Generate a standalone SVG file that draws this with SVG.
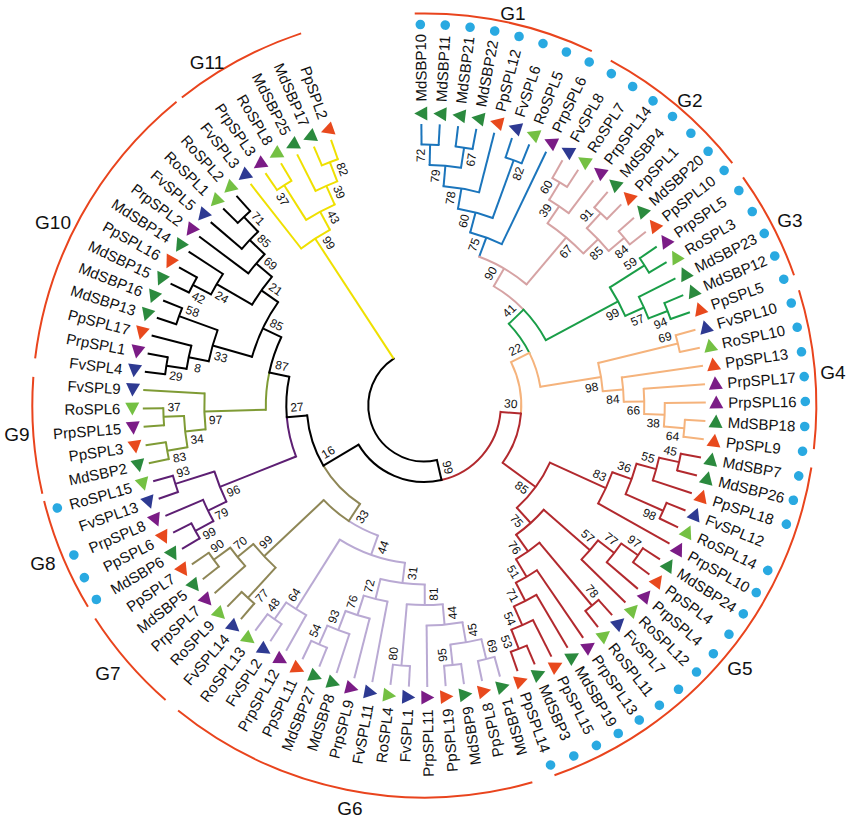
<svg xmlns="http://www.w3.org/2000/svg" width="850" height="822" viewBox="0 0 850 822">
<defs>
<style>
.cn path,.cn circle{fill:none;stroke-width:2}
.cn circle{stroke-linecap:square}
.cb{stroke:#1b75bc}.cp{stroke:#d6a3a4}.cg{stroke:#1a9e48}.co{stroke:#f5b37c}.cr{stroke:#b2292e}
.cv{stroke:#b9a9d3}.ck{stroke:#8e8656}.cu{stroke:#5d1f73}.cw{stroke:#7f9b35}.cn0{stroke:#000}.cy{stroke:#efe000}
.md{fill:#2b8a3e}.pp{fill:#e8491d}.fv{fill:#2e3a92}.ro{fill:#74c043}.prp{fill:#7b1c86}
.dot{fill:#29a9e1}
.lf text{font-family:"Liberation Sans",Arial,sans-serif;font-size:15px;dominant-baseline:central;fill:#111}
.lf .L text{text-anchor:end}
.bs text{font-family:"Liberation Sans",Arial,sans-serif;font-size:12px;dominant-baseline:central;text-anchor:middle;fill:#111}
.grp circle{fill:none;stroke:#e9441d;stroke-width:2}
.gl text{font-family:"Liberation Sans",Arial,sans-serif;font-size:19px;dominant-baseline:central;text-anchor:middle;fill:#111}
</style>
<path id="t" d="M-7 0L6-7V7Z"/>
</defs>
<rect width="850" height="822" fill="#fff"/>
<g transform="translate(424.3 405.5) rotate(-0.6)">
<g id="connectors" class="cn">
<g class="cb">
<circle r="261" pathLength="360" stroke-dasharray="3.75 400" transform="rotate(-90)"/>
<circle r="261" pathLength="360" stroke-dasharray="3.75 400" transform="rotate(-82.5)"/>
<circle r="240.5" pathLength="360" stroke-dasharray="7.5 400" transform="rotate(-88.125)"/>
<circle r="220" pathLength="360" stroke-dasharray="9.375 400" transform="rotate(-84.375)"/>
<circle r="261" pathLength="360" stroke-dasharray="3.75 400" transform="rotate(-71.25)"/>
<circle r="199.5" pathLength="360" stroke-dasharray="10.3125 400" transform="rotate(-79.6875)"/>
<circle r="179" pathLength="360" stroke-dasharray="10.78 400" transform="rotate(-74.531)"/>
<path d="M0-240.5V-261" transform="rotate(1.875)"/>
<path d="M0-240.5V-261" transform="rotate(9.375)"/>
<path d="M0-220V-240.5" transform="rotate(5.625)"/>
<path d="M0-199.5V-220" transform="rotate(10.3125)"/>
<path d="M0-199.5V-261" transform="rotate(20.625)"/>
<path d="M0-179V-199.5" transform="rotate(15.469)"/>
<path d="M0-158.5V-179" transform="rotate(20.859)"/>
<path d="M0-261V-281.5" transform="rotate(0)"/>
<path d="M0-261V-281.5" transform="rotate(3.75)"/>
<path d="M0-261V-281.5" transform="rotate(7.5)"/>
<path d="M0-261V-281.5" transform="rotate(11.25)"/>
<path d="M0-220V-281.5" transform="rotate(15)"/>
<path d="M0-261V-281.5" transform="rotate(18.75)"/>
<path d="M0-261V-281.5" transform="rotate(22.5)"/>
<path d="M0-179V-281.5" transform="rotate(26.25)"/>
</g>
<g class="cp">
<circle r="261" pathLength="360" stroke-dasharray="3.75 400" transform="rotate(-60)"/>
<circle r="240.5" pathLength="360" stroke-dasharray="5.625 400" transform="rotate(-58.125)"/>
<circle r="261" pathLength="360" stroke-dasharray="3.75 400" transform="rotate(-48.75)"/>
<circle r="261" pathLength="360" stroke-dasharray="3.75 400" transform="rotate(-41.25)"/>
<circle r="240.5" pathLength="360" stroke-dasharray="7.5 400" transform="rotate(-46.875)"/>
<circle r="220" pathLength="360" stroke-dasharray="12.1875 400" transform="rotate(-55.3125)"/>
<circle r="158.5" pathLength="360" stroke-dasharray="19.92 400" transform="rotate(-69.14)"/>
<circle r="138" pathLength="360" stroke-dasharray="15.76 400" transform="rotate(-59.18)"/>
<path d="M0-240.5V-261" transform="rotate(31.875)"/>
<path d="M0-220V-240.5" transform="rotate(34.6875)"/>
<path d="M0-240.5V-261" transform="rotate(43.125)"/>
<path d="M0-240.5V-261" transform="rotate(50.625)"/>
<path d="M0-220V-240.5" transform="rotate(46.875)"/>
<path d="M0-158.5V-220" transform="rotate(40.781)"/>
<path d="M0-138V-158.5" transform="rotate(30.82)"/>
<path d="M0-261V-281.5" transform="rotate(30)"/>
<path d="M0-261V-281.5" transform="rotate(33.75)"/>
<path d="M0-240.5V-281.5" transform="rotate(37.5)"/>
<path d="M0-261V-281.5" transform="rotate(41.25)"/>
<path d="M0-261V-281.5" transform="rotate(45)"/>
<path d="M0-261V-281.5" transform="rotate(48.75)"/>
<path d="M0-261V-281.5" transform="rotate(52.5)"/>
</g>
<g class="cg">
<circle r="261" pathLength="360" stroke-dasharray="3.75 400" transform="rotate(-33.75)"/>
<circle r="261" pathLength="360" stroke-dasharray="3.75 400" transform="rotate(-22.5)"/>
<circle r="240.5" pathLength="360" stroke-dasharray="5.625 400" transform="rotate(-26.25)"/>
<circle r="220" pathLength="360" stroke-dasharray="8.4375 400" transform="rotate(-31.875)"/>
<circle r="138" pathLength="360" stroke-dasharray="15.76 400" transform="rotate(-43.418)"/>
<circle r="117.5" pathLength="360" stroke-dasharray="17.43 400" transform="rotate(-43.418)"/>
<path d="M0-220V-261" transform="rotate(58.125)"/>
<path d="M0-240.5V-261" transform="rotate(69.375)"/>
<path d="M0-220V-240.5" transform="rotate(66.5625)"/>
<path d="M0-138V-220" transform="rotate(62.344)"/>
<path d="M0-117.5V-138" transform="rotate(46.582)"/>
<path d="M0-261V-281.5" transform="rotate(56.25)"/>
<path d="M0-261V-281.5" transform="rotate(60)"/>
<path d="M0-240.5V-281.5" transform="rotate(63.75)"/>
<path d="M0-261V-281.5" transform="rotate(67.5)"/>
<path d="M0-261V-281.5" transform="rotate(71.25)"/>
</g>
<g class="co">
<circle r="261" pathLength="360" stroke-dasharray="3.75 400" transform="rotate(-15)"/>
<circle r="261" pathLength="360" stroke-dasharray="3.75 400" transform="rotate(3.75)"/>
<circle r="240.5" pathLength="360" stroke-dasharray="5.625 400" transform="rotate(0)"/>
<circle r="220" pathLength="360" stroke-dasharray="6.5625 400" transform="rotate(-3.75)"/>
<circle r="199.5" pathLength="360" stroke-dasharray="7.031 400" transform="rotate(-7.5)"/>
<circle r="179" pathLength="360" stroke-dasharray="9.14 400" transform="rotate(-13.125)"/>
<circle r="117.5" pathLength="360" stroke-dasharray="17.43 400" transform="rotate(-25.986)"/>
<circle r="97" pathLength="360" stroke-dasharray="31.38 400" transform="rotate(-25.986)"/>
<path d="M0-179V-261" transform="rotate(76.875)"/>
<path d="M0-240.5V-261" transform="rotate(95.625)"/>
<path d="M0-220V-240.5" transform="rotate(92.8125)"/>
<path d="M0-199.5V-220" transform="rotate(89.531)"/>
<path d="M0-179V-199.5" transform="rotate(86.016)"/>
<path d="M0-117.5V-179" transform="rotate(81.445)"/>
<path d="M0-97V-117.5" transform="rotate(64.014)"/>
<path d="M0-261V-281.5" transform="rotate(75)"/>
<path d="M0-261V-281.5" transform="rotate(78.75)"/>
<path d="M0-199.5V-281.5" transform="rotate(82.5)"/>
<path d="M0-220V-281.5" transform="rotate(86.25)"/>
<path d="M0-240.5V-281.5" transform="rotate(90)"/>
<path d="M0-261V-281.5" transform="rotate(93.75)"/>
<path d="M0-261V-281.5" transform="rotate(97.5)"/>
</g>
<g class="cr">
<circle r="261" pathLength="360" stroke-dasharray="3.75 400" transform="rotate(11.25)"/>
<circle r="240.5" pathLength="360" stroke-dasharray="5.625 400" transform="rotate(13.125)"/>
<circle r="261" pathLength="360" stroke-dasharray="3.75 400" transform="rotate(22.5)"/>
<circle r="220" pathLength="360" stroke-dasharray="8.4375 400" transform="rotate(15.9375)"/>
<circle r="199.5" pathLength="360" stroke-dasharray="9.844 400" transform="rotate(20.156)"/>
<circle r="261" pathLength="360" stroke-dasharray="3.75 400" transform="rotate(33.75)"/>
<circle r="240.5" pathLength="360" stroke-dasharray="5.625 400" transform="rotate(35.625)"/>
<circle r="220" pathLength="360" stroke-dasharray="6.5625 400" transform="rotate(38.4375)"/>
<circle r="261" pathLength="360" stroke-dasharray="3.75 400" transform="rotate(48.75)"/>
<circle r="261" pathLength="360" stroke-dasharray="3.75 400" transform="rotate(67.5)"/>
<circle r="240.5" pathLength="360" stroke-dasharray="5.625 400" transform="rotate(63.75)"/>
<circle r="220" pathLength="360" stroke-dasharray="6.5625 400" transform="rotate(60)"/>
<circle r="199.5" pathLength="360" stroke-dasharray="7.031 400" transform="rotate(56.25)"/>
<circle r="179" pathLength="360" stroke-dasharray="9.14 400" transform="rotate(50.625)"/>
<circle r="158.5" pathLength="360" stroke-dasharray="13.48 400" transform="rotate(41.719)"/>
<circle r="138" pathLength="360" stroke-dasharray="23.38 400" transform="rotate(25.078)"/>
<circle r="97" pathLength="360" stroke-dasharray="31.38 400" transform="rotate(5.391)"/>
<circle r="76.5" pathLength="360" stroke-dasharray="72.19 400" transform="rotate(5.391)"/>
<path d="M0-240.5V-261" transform="rotate(103.125)"/>
<path d="M0-220V-240.5" transform="rotate(105.9375)"/>
<path d="M0-220V-261" transform="rotate(114.375)"/>
<path d="M0-199.5V-220" transform="rotate(110.156)"/>
<path d="M0-138V-199.5" transform="rotate(115.078)"/>
<path d="M0-240.5V-261" transform="rotate(125.625)"/>
<path d="M0-220V-240.5" transform="rotate(128.4375)"/>
<path d="M0-158.5V-220" transform="rotate(131.719)"/>
<path d="M0-179V-261" transform="rotate(140.625)"/>
<path d="M0-240.5V-261" transform="rotate(159.375)"/>
<path d="M0-220V-240.5" transform="rotate(156.5625)"/>
<path d="M0-199.5V-220" transform="rotate(153.281)"/>
<path d="M0-179V-199.5" transform="rotate(149.766)"/>
<path d="M0-158.5V-179" transform="rotate(145.195)"/>
<path d="M0-138V-158.5" transform="rotate(138.457)"/>
<path d="M0-97V-138" transform="rotate(126.768)"/>
<path d="M0-76.5V-97" transform="rotate(95.391)"/>
<path d="M0-261V-281.5" transform="rotate(101.25)"/>
<path d="M0-261V-281.5" transform="rotate(105)"/>
<path d="M0-240.5V-281.5" transform="rotate(108.75)"/>
<path d="M0-261V-281.5" transform="rotate(112.5)"/>
<path d="M0-261V-281.5" transform="rotate(116.25)"/>
<path d="M0-199.5V-281.5" transform="rotate(120)"/>
<path d="M0-261V-281.5" transform="rotate(123.75)"/>
<path d="M0-261V-281.5" transform="rotate(127.5)"/>
<path d="M0-240.5V-281.5" transform="rotate(131.25)"/>
<path d="M0-220V-281.5" transform="rotate(135)"/>
<path d="M0-261V-281.5" transform="rotate(138.75)"/>
<path d="M0-261V-281.5" transform="rotate(142.5)"/>
<path d="M0-199.5V-281.5" transform="rotate(146.25)"/>
<path d="M0-220V-281.5" transform="rotate(150)"/>
<path d="M0-240.5V-281.5" transform="rotate(153.75)"/>
<path d="M0-261V-281.5" transform="rotate(157.5)"/>
<path d="M0-261V-281.5" transform="rotate(161.25)"/>
</g>
<g class="cv">
<circle r="261" pathLength="360" stroke-dasharray="3.75 400" transform="rotate(75)"/>
<circle r="261" pathLength="360" stroke-dasharray="3.75 400" transform="rotate(82.5)"/>
<circle r="240.5" pathLength="360" stroke-dasharray="7.5 400" transform="rotate(76.875)"/>
<circle r="220" pathLength="360" stroke-dasharray="9.375 400" transform="rotate(80.625)"/>
<circle r="261" pathLength="360" stroke-dasharray="3.75 400" transform="rotate(93.75)"/>
<circle r="199.5" pathLength="360" stroke-dasharray="10.3125 400" transform="rotate(85.3125)"/>
<circle r="261" pathLength="360" stroke-dasharray="3.75 400" transform="rotate(112.5)"/>
<circle r="240.5" pathLength="360" stroke-dasharray="5.625 400" transform="rotate(108.75)"/>
<circle r="220" pathLength="360" stroke-dasharray="6.5625 400" transform="rotate(105)"/>
<circle r="199.5" pathLength="360" stroke-dasharray="7.031 400" transform="rotate(101.25)"/>
<circle r="179" pathLength="360" stroke-dasharray="14.297 400" transform="rotate(90.469)"/>
<circle r="261" pathLength="360" stroke-dasharray="3.75 400" transform="rotate(123.75)"/>
<circle r="240.5" pathLength="360" stroke-dasharray="5.625 400" transform="rotate(120)"/>
<circle r="158.5" pathLength="360" stroke-dasharray="25.195 400" transform="rotate(97.617)"/>
<circle r="138" pathLength="360" stroke-dasharray="13.56 400" transform="rotate(110.215)"/>
<path d="M0-240.5V-261" transform="rotate(166.875)"/>
<path d="M0-240.5V-261" transform="rotate(174.375)"/>
<path d="M0-220V-240.5" transform="rotate(170.625)"/>
<path d="M0-199.5V-220" transform="rotate(175.3125)"/>
<path d="M0-199.5V-261" transform="rotate(185.625)"/>
<path d="M0-179V-199.5" transform="rotate(180.469)"/>
<path d="M0-240.5V-261" transform="rotate(204.375)"/>
<path d="M0-220V-240.5" transform="rotate(201.5625)"/>
<path d="M0-199.5V-220" transform="rotate(198.281)"/>
<path d="M0-179V-199.5" transform="rotate(194.766)"/>
<path d="M0-158.5V-179" transform="rotate(187.617)"/>
<path d="M0-240.5V-261" transform="rotate(215.625)"/>
<path d="M0-158.5V-240.5" transform="rotate(212.8125)"/>
<path d="M0-138V-158.5" transform="rotate(200.215)"/>
<path d="M0-261V-281.5" transform="rotate(165)"/>
<path d="M0-261V-281.5" transform="rotate(168.75)"/>
<path d="M0-261V-281.5" transform="rotate(172.5)"/>
<path d="M0-261V-281.5" transform="rotate(176.25)"/>
<path d="M0-220V-281.5" transform="rotate(180)"/>
<path d="M0-261V-281.5" transform="rotate(183.75)"/>
<path d="M0-261V-281.5" transform="rotate(187.5)"/>
<path d="M0-199.5V-281.5" transform="rotate(191.25)"/>
<path d="M0-220V-281.5" transform="rotate(195)"/>
<path d="M0-240.5V-281.5" transform="rotate(198.75)"/>
<path d="M0-261V-281.5" transform="rotate(202.5)"/>
<path d="M0-261V-281.5" transform="rotate(206.25)"/>
<path d="M0-240.5V-281.5" transform="rotate(210)"/>
<path d="M0-261V-281.5" transform="rotate(213.75)"/>
<path d="M0-261V-281.5" transform="rotate(217.5)"/>
</g>
<g class="ck">
<circle r="261" pathLength="360" stroke-dasharray="3.75 400" transform="rotate(131.25)"/>
<circle r="261" pathLength="360" stroke-dasharray="3.75 400" transform="rotate(142.5)"/>
<circle r="240.5" pathLength="360" stroke-dasharray="5.625 400" transform="rotate(138.75)"/>
<circle r="220" pathLength="360" stroke-dasharray="8.4375 400" transform="rotate(133.125)"/>
<circle r="138" pathLength="360" stroke-dasharray="13.56 400" transform="rotate(123.779)"/>
<circle r="117.5" pathLength="360" stroke-dasharray="25.99 400" transform="rotate(123.779)"/>
<path d="M0-220V-261" transform="rotate(223.125)"/>
<path d="M0-240.5V-261" transform="rotate(234.375)"/>
<path d="M0-220V-240.5" transform="rotate(231.5625)"/>
<path d="M0-138V-220" transform="rotate(227.344)"/>
<path d="M0-117.5V-138" transform="rotate(213.779)"/>
<path d="M0-261V-281.5" transform="rotate(221.25)"/>
<path d="M0-261V-281.5" transform="rotate(225)"/>
<path d="M0-240.5V-281.5" transform="rotate(228.75)"/>
<path d="M0-261V-281.5" transform="rotate(232.5)"/>
<path d="M0-261V-281.5" transform="rotate(236.25)"/>
</g>
<g class="cu">
<circle r="261" pathLength="360" stroke-dasharray="3.75 400" transform="rotate(150)"/>
<circle r="240.5" pathLength="360" stroke-dasharray="5.625 400" transform="rotate(151.875)"/>
<circle r="261" pathLength="360" stroke-dasharray="3.75 400" transform="rotate(161.25)"/>
<circle r="220" pathLength="360" stroke-dasharray="8.4375 400" transform="rotate(154.6875)"/>
<circle r="138" pathLength="360" stroke-dasharray="16.85 400" transform="rotate(158.906)"/>
<path d="M0-240.5V-261" transform="rotate(241.875)"/>
<path d="M0-220V-240.5" transform="rotate(244.6875)"/>
<path d="M0-220V-261" transform="rotate(253.125)"/>
<path d="M0-138V-220" transform="rotate(248.906)"/>
<path d="M0-261V-281.5" transform="rotate(240)"/>
<path d="M0-261V-281.5" transform="rotate(243.75)"/>
<path d="M0-240.5V-281.5" transform="rotate(247.5)"/>
<path d="M0-261V-281.5" transform="rotate(251.25)"/>
<path d="M0-261V-281.5" transform="rotate(255)"/>
</g>
<g class="cw">
<circle r="261" pathLength="360" stroke-dasharray="3.75 400" transform="rotate(168.75)"/>
<circle r="261" pathLength="360" stroke-dasharray="3.75 400" transform="rotate(176.25)"/>
<circle r="240.5" pathLength="360" stroke-dasharray="7.5 400" transform="rotate(170.625)"/>
<circle r="220" pathLength="360" stroke-dasharray="9.375 400" transform="rotate(174.375)"/>
<circle r="158.5" pathLength="360" stroke-dasharray="13.54 400" transform="rotate(179.0625)"/>
<path d="M0-240.5V-261" transform="rotate(260.625)"/>
<path d="M0-240.5V-261" transform="rotate(268.125)"/>
<path d="M0-220V-240.5" transform="rotate(264.375)"/>
<path d="M0-158.5V-220" transform="rotate(269.0625)"/>
<path d="M0-261V-281.5" transform="rotate(258.75)"/>
<path d="M0-261V-281.5" transform="rotate(262.5)"/>
<path d="M0-261V-281.5" transform="rotate(266.25)"/>
<path d="M0-261V-281.5" transform="rotate(270)"/>
<path d="M0-220V-281.5" transform="rotate(273.75)"/>
</g>
<g class="cn0">
<circle r="261" pathLength="360" stroke-dasharray="3.75 400" transform="rotate(187.5)"/>
<circle r="240.5" pathLength="360" stroke-dasharray="5.625 400" transform="rotate(189.375)"/>
<circle r="261" pathLength="360" stroke-dasharray="3.75 400" transform="rotate(198.75)"/>
<circle r="220" pathLength="360" stroke-dasharray="8.4375 400" transform="rotate(192.1875)"/>
<circle r="261" pathLength="360" stroke-dasharray="3.75 400" transform="rotate(206.25)"/>
<circle r="240.5" pathLength="360" stroke-dasharray="5.625 400" transform="rotate(208.125)"/>
<circle r="261" pathLength="360" stroke-dasharray="3.75 400" transform="rotate(225)"/>
<circle r="240.5" pathLength="360" stroke-dasharray="5.625 400" transform="rotate(221.25)"/>
<circle r="220" pathLength="360" stroke-dasharray="6.5625 400" transform="rotate(217.5)"/>
<circle r="199.5" pathLength="360" stroke-dasharray="9.844 400" transform="rotate(210.9375)"/>
<circle r="179" pathLength="360" stroke-dasharray="19.45 400" transform="rotate(196.406)"/>
<circle r="158.5" pathLength="360" stroke-dasharray="13.54 400" transform="rotate(192.598)"/>
<circle r="138" pathLength="360" stroke-dasharray="16.85 400" transform="rotate(175.752)"/>
<circle r="117.5" pathLength="360" stroke-dasharray="25.99 400" transform="rotate(149.766)"/>
<circle r="76.5" pathLength="360" stroke-dasharray="72.19 400" transform="rotate(77.578)"/>
<circle r="56" pathLength="360" stroke-dasharray="159.84 400" transform="rotate(77.578)"/>
<path d="M0-240.5V-261" transform="rotate(279.375)"/>
<path d="M0-220V-240.5" transform="rotate(282.1875)"/>
<path d="M0-220V-261" transform="rotate(290.625)"/>
<path d="M0-179V-220" transform="rotate(286.406)"/>
<path d="M0-240.5V-261" transform="rotate(298.125)"/>
<path d="M0-199.5V-240.5" transform="rotate(300.9375)"/>
<path d="M0-240.5V-261" transform="rotate(316.875)"/>
<path d="M0-220V-240.5" transform="rotate(314.0625)"/>
<path d="M0-199.5V-220" transform="rotate(310.781)"/>
<path d="M0-179V-199.5" transform="rotate(305.859)"/>
<path d="M0-158.5V-179" transform="rotate(296.133)"/>
<path d="M0-138V-158.5" transform="rotate(282.598)"/>
<path d="M0-117.5V-138" transform="rotate(265.752)"/>
<path d="M0-76.5V-117.5" transform="rotate(239.766)"/>
<path d="M0-56V-76.5" transform="rotate(167.578)"/>
<path d="M0-261V-281.5" transform="rotate(277.5)"/>
<path d="M0-261V-281.5" transform="rotate(281.25)"/>
<path d="M0-240.5V-281.5" transform="rotate(285)"/>
<path d="M0-261V-281.5" transform="rotate(288.75)"/>
<path d="M0-261V-281.5" transform="rotate(292.5)"/>
<path d="M0-261V-281.5" transform="rotate(296.25)"/>
<path d="M0-261V-281.5" transform="rotate(300)"/>
<path d="M0-240.5V-281.5" transform="rotate(303.75)"/>
<path d="M0-220V-281.5" transform="rotate(307.5)"/>
<path d="M0-240.5V-281.5" transform="rotate(311.25)"/>
<path d="M0-261V-281.5" transform="rotate(315)"/>
<path d="M0-261V-281.5" transform="rotate(318.75)"/>
</g>
<g class="cy">
<circle r="261" pathLength="360" stroke-dasharray="3.75 400" transform="rotate(236.25)"/>
<circle r="261" pathLength="360" stroke-dasharray="3.75 400" transform="rotate(247.5)"/>
<circle r="240.5" pathLength="360" stroke-dasharray="5.625 400" transform="rotate(243.75)"/>
<circle r="220" pathLength="360" stroke-dasharray="8.4375 400" transform="rotate(238.125)"/>
<circle r="199.5" pathLength="360" stroke-dasharray="9.844 400" transform="rotate(232.5)"/>
<path d="M0-220V-261" transform="rotate(328.125)"/>
<path d="M0-240.5V-261" transform="rotate(339.375)"/>
<path d="M0-220V-240.5" transform="rotate(336.5625)"/>
<path d="M0-199.5V-220" transform="rotate(332.344)"/>
<path d="M0-56V-199.5" transform="rotate(327.422)"/>
<path d="M0-199.5V-281.5" transform="rotate(322.5)"/>
<path d="M0-261V-281.5" transform="rotate(326.25)"/>
<path d="M0-261V-281.5" transform="rotate(330)"/>
<path d="M0-240.5V-281.5" transform="rotate(333.75)"/>
<path d="M0-261V-281.5" transform="rotate(337.5)"/>
<path d="M0-261V-281.5" transform="rotate(341.25)"/>
</g>
</g>
<g id="groups" class="grp">
<circle r="392" pathLength="360" stroke-dasharray="26.7 400" transform="rotate(-90.8)"/>
<circle r="392" pathLength="360" stroke-dasharray="23.4 400" transform="rotate(-61)"/>
<circle r="392" pathLength="360" stroke-dasharray="16.2 400" transform="rotate(-35)"/>
<circle r="392" pathLength="360" stroke-dasharray="23.5 400" transform="rotate(-16.5)"/>
<circle r="392" pathLength="360" stroke-dasharray="61.5 400" transform="rotate(9.7)"/>
<circle r="392" pathLength="360" stroke-dasharray="54.9 400" transform="rotate(74.6)"/>
<circle r="392" pathLength="360" stroke-dasharray="15.8 400" transform="rotate(131.9)"/>
<circle r="392" pathLength="360" stroke-dasharray="16.8 400" transform="rotate(149.7)"/>
<circle r="392" pathLength="360" stroke-dasharray="17.2 400" transform="rotate(167.6)"/>
<circle r="392" pathLength="360" stroke-dasharray="43.9 400" transform="rotate(187.5)"/>
<circle r="392" pathLength="360" stroke-dasharray="19.9 400" transform="rotate(232.4)"/>
</g>
<g id="leaves" class="lf">
<g id="MdSBP10" transform="rotate(0)"><use href="#t" y="-292" class="md"/><text x="304" transform="rotate(-90)">MdSBP10</text><circle class="dot" cy="-381" r="4.8"/></g>
<g id="MdSBP11" transform="rotate(3.75)"><use href="#t" y="-292" class="md"/><text x="304" transform="rotate(-90)">MdSBP11</text><circle class="dot" cy="-381" r="4.8"/></g>
<g id="MdSBP21" transform="rotate(7.5)"><use href="#t" y="-292" class="md"/><text x="304" transform="rotate(-90)">MdSBP21</text><circle class="dot" cy="-381" r="4.8"/></g>
<g id="MdSBP22" transform="rotate(11.25)"><use href="#t" y="-292" class="md"/><text x="304" transform="rotate(-90)">MdSBP22</text><circle class="dot" cy="-381" r="4.8"/></g>
<g id="PpSPL12" transform="rotate(15)"><use href="#t" y="-292" class="pp"/><text x="304" transform="rotate(-90)">PpSPL12</text><circle class="dot" cy="-381" r="4.8"/></g>
<g id="FvSPL6" transform="rotate(18.75)"><use href="#t" y="-292" class="fv"/><text x="304" transform="rotate(-90)">FvSPL6</text><circle class="dot" cy="-381" r="4.8"/></g>
<g id="RoSPL5" transform="rotate(22.5)"><use href="#t" y="-292" class="ro"/><text x="304" transform="rotate(-90)">RoSPL5</text><circle class="dot" cy="-381" r="4.8"/></g>
<g id="PrpSPL6" transform="rotate(26.25)"><use href="#t" y="-292" class="prp"/><text x="304" transform="rotate(-90)">PrpSPL6</text><circle class="dot" cy="-381" r="4.8"/></g>
<g id="FvSPL8" transform="rotate(30)"><use href="#t" y="-292" class="fv"/><text x="304" transform="rotate(-90)">FvSPL8</text><circle class="dot" cy="-381" r="4.8"/></g>
<g id="RoSPL7" transform="rotate(33.75)"><use href="#t" y="-292" class="ro"/><text x="304" transform="rotate(-90)">RoSPL7</text><circle class="dot" cy="-381" r="4.8"/></g>
<g id="PrpSPL14" transform="rotate(37.5)"><use href="#t" y="-292" class="prp"/><text x="304" transform="rotate(-90)">PrpSPL14</text><circle class="dot" cy="-381" r="4.8"/></g>
<g id="MdSBP4" transform="rotate(41.25)"><use href="#t" y="-292" class="md"/><text x="304" transform="rotate(-90)">MdSBP4</text><circle class="dot" cy="-381" r="4.8"/></g>
<g id="PpSPL1" transform="rotate(45)"><use href="#t" y="-292" class="pp"/><text x="304" transform="rotate(-90)">PpSPL1</text><circle class="dot" cy="-381" r="4.8"/></g>
<g id="MdSBP20" transform="rotate(48.75)"><use href="#t" y="-292" class="md"/><text x="304" transform="rotate(-90)">MdSBP20</text><circle class="dot" cy="-381" r="4.8"/></g>
<g id="PpSPL10" transform="rotate(52.5)"><use href="#t" y="-292" class="pp"/><text x="304" transform="rotate(-90)">PpSPL10</text><circle class="dot" cy="-381" r="4.8"/></g>
<g id="PrpSPL5" transform="rotate(56.25)"><use href="#t" y="-292" class="prp"/><text x="304" transform="rotate(-90)">PrpSPL5</text><circle class="dot" cy="-381" r="4.8"/></g>
<g id="RoSPL3" transform="rotate(60)"><use href="#t" y="-292" class="ro"/><text x="304" transform="rotate(-90)">RoSPL3</text><circle class="dot" cy="-381" r="4.8"/></g>
<g id="MdSBP23" transform="rotate(63.75)"><use href="#t" y="-292" class="md"/><text x="304" transform="rotate(-90)">MdSBP23</text><circle class="dot" cy="-381" r="4.8"/></g>
<g id="MdSBP12" transform="rotate(67.5)"><use href="#t" y="-292" class="md"/><text x="304" transform="rotate(-90)">MdSBP12</text><circle class="dot" cy="-381" r="4.8"/></g>
<g id="PpSPL5" transform="rotate(71.25)"><use href="#t" y="-292" class="pp"/><text x="304" transform="rotate(-90)">PpSPL5</text><circle class="dot" cy="-381" r="4.8"/></g>
<g id="FvSPL10" transform="rotate(75)"><use href="#t" y="-292" class="fv"/><text x="304" transform="rotate(-90)">FvSPL10</text><circle class="dot" cy="-381" r="4.8"/></g>
<g id="RoSPL10" transform="rotate(78.75)"><use href="#t" y="-292" class="ro"/><text x="304" transform="rotate(-90)">RoSPL10</text><circle class="dot" cy="-381" r="4.8"/></g>
<g id="PpSPL13" transform="rotate(82.5)"><use href="#t" y="-292" class="pp"/><text x="304" transform="rotate(-90)">PpSPL13</text><circle class="dot" cy="-381" r="4.8"/></g>
<g id="PrpSPL17" transform="rotate(86.25)"><use href="#t" y="-292" class="prp"/><text x="304" transform="rotate(-90)">PrpSPL17</text><circle class="dot" cy="-381" r="4.8"/></g>
<g id="PrpSPL16" transform="rotate(90)"><use href="#t" y="-292" class="prp"/><text x="304" transform="rotate(-90)">PrpSPL16</text><circle class="dot" cy="-381" r="4.8"/></g>
<g id="MdSBP18" transform="rotate(93.75)"><use href="#t" y="-292" class="md"/><text x="304" transform="rotate(-90)">MdSBP18</text><circle class="dot" cy="-381" r="4.8"/></g>
<g id="PpSPL9" transform="rotate(97.5)"><use href="#t" y="-292" class="pp"/><text x="304" transform="rotate(-90)">PpSPL9</text><circle class="dot" cy="-381" r="4.8"/></g>
<g id="MdSBP7" transform="rotate(101.25)"><use href="#t" y="-292" class="md"/><text x="304" transform="rotate(-90)">MdSBP7</text><circle class="dot" cy="-381" r="4.8"/></g>
<g id="MdSBP26" transform="rotate(105)"><use href="#t" y="-292" class="md"/><text x="304" transform="rotate(-90)">MdSBP26</text><circle class="dot" cy="-381" r="4.8"/></g>
<g id="PpSPL18" transform="rotate(108.75)"><use href="#t" y="-292" class="pp"/><text x="304" transform="rotate(-90)">PpSPL18</text><circle class="dot" cy="-381" r="4.8"/></g>
<g id="FvSPL12" transform="rotate(112.5)"><use href="#t" y="-292" class="fv"/><text x="304" transform="rotate(-90)">FvSPL12</text></g>
<g id="RoSPL14" transform="rotate(116.25)"><use href="#t" y="-292" class="ro"/><text x="304" transform="rotate(-90)">RoSPL14</text><circle class="dot" cy="-381" r="4.8"/></g>
<g id="PrpSPL10" transform="rotate(120)"><use href="#t" y="-292" class="prp"/><text x="304" transform="rotate(-90)">PrpSPL10</text><circle class="dot" cy="-381" r="4.8"/></g>
<g id="MdSBP24" transform="rotate(123.75)"><use href="#t" y="-292" class="md"/><text x="304" transform="rotate(-90)">MdSBP24</text><circle class="dot" cy="-381" r="4.8"/></g>
<g id="PpSPL4" transform="rotate(127.5)"><use href="#t" y="-292" class="pp"/><text x="304" transform="rotate(-90)">PpSPL4</text><circle class="dot" cy="-381" r="4.8"/></g>
<g id="PrpSPL4" transform="rotate(131.25)"><use href="#t" y="-292" class="prp"/><text x="304" transform="rotate(-90)">PrpSPL4</text><circle class="dot" cy="-381" r="4.8"/></g>
<g id="RoSPL12" transform="rotate(135)"><use href="#t" y="-292" class="ro"/><text x="304" transform="rotate(-90)">RoSPL12</text><circle class="dot" cy="-381" r="4.8"/></g>
<g id="FvSPL7" transform="rotate(138.75)"><use href="#t" y="-292" class="fv"/><text x="304" transform="rotate(-90)">FvSPL7</text><circle class="dot" cy="-381" r="4.8"/></g>
<g id="RoSPL11" transform="rotate(142.5)"><use href="#t" y="-292" class="ro"/><text x="304" transform="rotate(-90)">RoSPL11</text><circle class="dot" cy="-381" r="4.8"/></g>
<g id="PrpSPL13" transform="rotate(146.25)"><use href="#t" y="-292" class="prp"/><text x="304" transform="rotate(-90)">PrpSPL13</text><circle class="dot" cy="-381" r="4.8"/></g>
<g id="MdSBP19" transform="rotate(150)"><use href="#t" y="-292" class="md"/><text x="304" transform="rotate(-90)">MdSBP19</text><circle class="dot" cy="-381" r="4.8"/></g>
<g id="PpSPL15" transform="rotate(153.75)"><use href="#t" y="-292" class="pp"/><text x="304" transform="rotate(-90)">PpSPL15</text><circle class="dot" cy="-381" r="4.8"/></g>
<g id="MdSBP3" transform="rotate(157.5)"><use href="#t" y="-292" class="md"/><text x="304" transform="rotate(-90)">MdSBP3</text><circle class="dot" cy="-381" r="4.8"/></g>
<g id="PpSPL14" transform="rotate(161.25)"><use href="#t" y="-292" class="pp"/><text x="304" transform="rotate(-90)">PpSPL14</text><circle class="dot" cy="-381" r="4.8"/></g>
<g id="MdSBP1" class="L" transform="rotate(165)"><use href="#t" y="-292" class="md"/><text x="-304" transform="rotate(90)">MdSBP1</text></g>
<g id="PpSPL8" class="L" transform="rotate(168.75)"><use href="#t" y="-292" class="pp"/><text x="-304" transform="rotate(90)">PpSPL8</text></g>
<g id="MdSBP9" class="L" transform="rotate(172.5)"><use href="#t" y="-292" class="md"/><text x="-304" transform="rotate(90)">MdSBP9</text></g>
<g id="PpSPL19" class="L" transform="rotate(176.25)"><use href="#t" y="-292" class="pp"/><text x="-304" transform="rotate(90)">PpSPL19</text></g>
<g id="PrpSPL11" class="L" transform="rotate(180)"><use href="#t" y="-292" class="prp"/><text x="-304" transform="rotate(90)">PrpSPL11</text></g>
<g id="FvSPL1" class="L" transform="rotate(183.75)"><use href="#t" y="-292" class="fv"/><text x="-304" transform="rotate(90)">FvSPL1</text></g>
<g id="RoSPL4" class="L" transform="rotate(187.5)"><use href="#t" y="-292" class="ro"/><text x="-304" transform="rotate(90)">RoSPL4</text></g>
<g id="FvSPL11" class="L" transform="rotate(191.25)"><use href="#t" y="-292" class="fv"/><text x="-304" transform="rotate(90)">FvSPL11</text></g>
<g id="PrpSPL9" class="L" transform="rotate(195)"><use href="#t" y="-292" class="prp"/><text x="-304" transform="rotate(90)">PrpSPL9</text></g>
<g id="MdSBP8" class="L" transform="rotate(198.75)"><use href="#t" y="-292" class="md"/><text x="-304" transform="rotate(90)">MdSBP8</text></g>
<g id="MdSBP27" class="L" transform="rotate(202.5)"><use href="#t" y="-292" class="md"/><text x="-304" transform="rotate(90)">MdSBP27</text></g>
<g id="PpSPL11" class="L" transform="rotate(206.25)"><use href="#t" y="-292" class="pp"/><text x="-304" transform="rotate(90)">PpSPL11</text></g>
<g id="PrpSPL12" class="L" transform="rotate(210)"><use href="#t" y="-292" class="prp"/><text x="-304" transform="rotate(90)">PrpSPL12</text></g>
<g id="FvSPL2" class="L" transform="rotate(213.75)"><use href="#t" y="-292" class="fv"/><text x="-304" transform="rotate(90)">FvSPL2</text></g>
<g id="RoSPL13" class="L" transform="rotate(217.5)"><use href="#t" y="-292" class="ro"/><text x="-304" transform="rotate(90)">RoSPL13</text></g>
<g id="FvSPL14" class="L" transform="rotate(221.25)"><use href="#t" y="-292" class="fv"/><text x="-304" transform="rotate(90)">FvSPL14</text></g>
<g id="RoSPL9" class="L" transform="rotate(225)"><use href="#t" y="-292" class="ro"/><text x="-304" transform="rotate(90)">RoSPL9</text></g>
<g id="PrpSPL7" class="L" transform="rotate(228.75)"><use href="#t" y="-292" class="prp"/><text x="-304" transform="rotate(90)">PrpSPL7</text></g>
<g id="MdSBP5" class="L" transform="rotate(232.5)"><use href="#t" y="-292" class="md"/><text x="-304" transform="rotate(90)">MdSBP5</text></g>
<g id="PpSPL7" class="L" transform="rotate(236.25)"><use href="#t" y="-292" class="pp"/><text x="-304" transform="rotate(90)">PpSPL7</text></g>
<g id="MdSBP6" class="L" transform="rotate(240)"><use href="#t" y="-292" class="md"/><text x="-304" transform="rotate(90)">MdSBP6</text><circle class="dot" cy="-381" r="4.8"/></g>
<g id="PpSPL6" class="L" transform="rotate(243.75)"><use href="#t" y="-292" class="pp"/><text x="-304" transform="rotate(90)">PpSPL6</text><circle class="dot" cy="-381" r="4.8"/></g>
<g id="PrpSPL8" class="L" transform="rotate(247.5)"><use href="#t" y="-292" class="prp"/><text x="-304" transform="rotate(90)">PrpSPL8</text><circle class="dot" cy="-381" r="4.8"/></g>
<g id="FvSPL13" class="L" transform="rotate(251.25)"><use href="#t" y="-292" class="fv"/><text x="-304" transform="rotate(90)">FvSPL13</text></g>
<g id="RoSPL15" class="L" transform="rotate(255)"><use href="#t" y="-292" class="ro"/><text x="-304" transform="rotate(90)">RoSPL15</text><circle class="dot" cy="-381" r="4.8"/></g>
<g id="MdSBP2" class="L" transform="rotate(258.75)"><use href="#t" y="-292" class="md"/><text x="-304" transform="rotate(90)">MdSBP2</text></g>
<g id="PpSPL3" class="L" transform="rotate(262.5)"><use href="#t" y="-292" class="pp"/><text x="-304" transform="rotate(90)">PpSPL3</text></g>
<g id="PrpSPL15" class="L" transform="rotate(266.25)"><use href="#t" y="-292" class="prp"/><text x="-304" transform="rotate(90)">PrpSPL15</text></g>
<g id="RoSPL6" class="L" transform="rotate(270)"><use href="#t" y="-292" class="ro"/><text x="-304" transform="rotate(90)">RoSPL6</text></g>
<g id="FvSPL9" class="L" transform="rotate(273.75)"><use href="#t" y="-292" class="fv"/><text x="-304" transform="rotate(90)">FvSPL9</text></g>
<g id="FvSPL4" class="L" transform="rotate(277.5)"><use href="#t" y="-292" class="fv"/><text x="-304" transform="rotate(90)">FvSPL4</text></g>
<g id="PrpSPL1" class="L" transform="rotate(281.25)"><use href="#t" y="-292" class="prp"/><text x="-304" transform="rotate(90)">PrpSPL1</text></g>
<g id="PpSPL17" class="L" transform="rotate(285)"><use href="#t" y="-292" class="pp"/><text x="-304" transform="rotate(90)">PpSPL17</text></g>
<g id="MdSBP13" class="L" transform="rotate(288.75)"><use href="#t" y="-292" class="md"/><text x="-304" transform="rotate(90)">MdSBP13</text></g>
<g id="MdSBP16" class="L" transform="rotate(292.5)"><use href="#t" y="-292" class="md"/><text x="-304" transform="rotate(90)">MdSBP16</text></g>
<g id="MdSBP15" class="L" transform="rotate(296.25)"><use href="#t" y="-292" class="md"/><text x="-304" transform="rotate(90)">MdSBP15</text></g>
<g id="PpSPL16" class="L" transform="rotate(300)"><use href="#t" y="-292" class="pp"/><text x="-304" transform="rotate(90)">PpSPL16</text></g>
<g id="MdSBP14" class="L" transform="rotate(303.75)"><use href="#t" y="-292" class="md"/><text x="-304" transform="rotate(90)">MdSBP14</text></g>
<g id="PrpSPL2" class="L" transform="rotate(307.5)"><use href="#t" y="-292" class="prp"/><text x="-304" transform="rotate(90)">PrpSPL2</text></g>
<g id="FvSPL5" class="L" transform="rotate(311.25)"><use href="#t" y="-292" class="fv"/><text x="-304" transform="rotate(90)">FvSPL5</text></g>
<g id="RoSPL1" class="L" transform="rotate(315)"><use href="#t" y="-292" class="ro"/><text x="-304" transform="rotate(90)">RoSPL1</text></g>
<g id="RoSPL2" class="L" transform="rotate(318.75)"><use href="#t" y="-292" class="ro"/><text x="-304" transform="rotate(90)">RoSPL2</text></g>
<g id="FvSPL3" class="L" transform="rotate(322.5)"><use href="#t" y="-292" class="fv"/><text x="-304" transform="rotate(90)">FvSPL3</text></g>
<g id="PrpSPL3" class="L" transform="rotate(326.25)"><use href="#t" y="-292" class="prp"/><text x="-304" transform="rotate(90)">PrpSPL3</text></g>
<g id="RoSPL8" class="L" transform="rotate(330)"><use href="#t" y="-292" class="ro"/><text x="-304" transform="rotate(90)">RoSPL8</text></g>
<g id="MdSBP25" class="L" transform="rotate(333.75)"><use href="#t" y="-292" class="md"/><text x="-304" transform="rotate(90)">MdSBP25</text></g>
<g id="MdSBP17" class="L" transform="rotate(337.5)"><use href="#t" y="-292" class="md"/><text x="-304" transform="rotate(90)">MdSBP17</text></g>
<g id="PpSPL2" class="L" transform="rotate(341.25)"><use href="#t" y="-292" class="pp"/><text x="-304" transform="rotate(90)">PpSPL2</text></g>
</g>
<g id="bootstrap" class="bs">
<text transform="rotate(-88.125)" x="250" y="-9">72</text>
<text transform="rotate(-80.625)" x="250" y="9">67</text>
<text transform="rotate(-84.375)" x="229.5" y="-9">79</text>
<text transform="rotate(-79.69)" x="209" y="-9">78</text>
<text transform="rotate(-69.375)" x="250" y="9">82</text>
<text transform="rotate(-74.53)" x="188.5" y="-9">60</text>
<text transform="rotate(-69.14)" x="168" y="-9">75</text>
<text transform="rotate(-58.125)" x="250" y="-9">60</text>
<text transform="rotate(-55.31)" x="229.5" y="-9">39</text>
<text transform="rotate(-46.875)" x="250" y="-9">91</text>
<text transform="rotate(-39.375)" x="250" y="9">84</text>
<text transform="rotate(-43.125)" x="229.5" y="9">85</text>
<text transform="rotate(-49.22)" x="209" y="9">67</text>
<text transform="rotate(-59.18)" x="147.5" y="-9">90</text>
<text transform="rotate(-31.875)" x="250" y="-9">59</text>
<text transform="rotate(-20.625)" x="250" y="9">94</text>
<text transform="rotate(-23.44)" x="229.5" y="9">57</text>
<text transform="rotate(-27.66)" x="209" y="9">99</text>
<text transform="rotate(-43.42)" x="127" y="-9">41</text>
<text transform="rotate(-13.125)" x="250" y="-9">69</text>
<text transform="rotate(5.625)" x="250" y="9">64</text>
<text transform="rotate(2.81)" x="229.5" y="9">38</text>
<text transform="rotate(-0.47)" x="209" y="9">66</text>
<text transform="rotate(-3.98)" x="188.5" y="9">84</text>
<text transform="rotate(-8.55)" x="168" y="9">98</text>
<text transform="rotate(-25.99)" x="106.5" y="-9">22</text>
<text transform="rotate(13.125)" x="250" y="-9">45</text>
<text transform="rotate(15.94)" x="229.5" y="-9">55</text>
<text transform="rotate(24.375)" x="250" y="9">98</text>
<text transform="rotate(20.16)" x="209" y="-9">36</text>
<text transform="rotate(25.08)" x="188.5" y="-9">83</text>
<text transform="rotate(35.625)" x="250" y="-9">97</text>
<text transform="rotate(38.44)" x="229.5" y="-9">77</text>
<text transform="rotate(41.72)" x="209" y="-9">57</text>
<text transform="rotate(50.625)" x="250" y="-9">78</text>
<text transform="rotate(69.375)" x="250" y="9">53</text>
<text transform="rotate(66.56)" x="229.5" y="9">54</text>
<text transform="rotate(63.28)" x="209" y="9">71</text>
<text transform="rotate(59.77)" x="188.5" y="9">51</text>
<text transform="rotate(55.2)" x="168" y="9">76</text>
<text transform="rotate(48.46)" x="147.5" y="9">75</text>
<text transform="rotate(36.77)" x="127" y="9">85</text>
<text transform="rotate(5.39)" x="86" y="-9">30</text>
<text transform="rotate(257.58)" x="-65.5" y="9">66</text>
<text transform="rotate(256.875)" x="-250" y="9">69</text>
<text transform="rotate(264.375)" x="-250" y="-9">95</text>
<text transform="rotate(260.625)" x="-229.5" y="9">45</text>
<text transform="rotate(265.31)" x="-209" y="9">44</text>
<text transform="rotate(275.625)" x="-250" y="-9">80</text>
<text transform="rotate(270.47)" x="-188.5" y="9">81</text>
<text transform="rotate(294.375)" x="-250" y="-9">54</text>
<text transform="rotate(291.56)" x="-229.5" y="-9">93</text>
<text transform="rotate(288.28)" x="-209" y="-9">76</text>
<text transform="rotate(284.77)" x="-188.5" y="-9">72</text>
<text transform="rotate(277.62)" x="-168" y="9">31</text>
<text transform="rotate(305.625)" x="-250" y="-9">48</text>
<text transform="rotate(302.81)" x="-229.5" y="-9">64</text>
<text transform="rotate(290.21)" x="-147.5" y="9">44</text>
<text transform="rotate(313.125)" x="-250" y="9">77</text>
<text transform="rotate(324.375)" x="-250" y="-9">90</text>
<text transform="rotate(321.56)" x="-229.5" y="-9">70</text>
<text transform="rotate(317.34)" x="-209" y="-9">99</text>
<text transform="rotate(303.78)" x="-127" y="9">33</text>
<text transform="rotate(331.875)" x="-250" y="9">99</text>
<text transform="rotate(334.69)" x="-229.5" y="9">79</text>
<text transform="rotate(343.125)" x="-250" y="-9">93</text>
<text transform="rotate(338.91)" x="-209" y="9">96</text>
<text transform="rotate(350.625)" x="-250" y="9">83</text>
<text transform="rotate(358.125)" x="-250" y="-9">37</text>
<text transform="rotate(354.375)" x="-229.5" y="9">34</text>
<text transform="rotate(359.06)" x="-209" y="9">97</text>
<text transform="rotate(9.375)" x="-250" y="9">29</text>
<text transform="rotate(12.19)" x="-229.5" y="9">8</text>
<text transform="rotate(20.625)" x="-250" y="-9">58</text>
<text transform="rotate(16.41)" x="-209" y="9">33</text>
<text transform="rotate(28.125)" x="-250" y="9">42</text>
<text transform="rotate(30.94)" x="-229.5" y="9">24</text>
<text transform="rotate(46.875)" x="-250" y="-9">71</text>
<text transform="rotate(44.06)" x="-229.5" y="-9">85</text>
<text transform="rotate(40.78)" x="-209" y="-9">69</text>
<text transform="rotate(35.86)" x="-188.5" y="-9">21</text>
<text transform="rotate(26.13)" x="-168" y="-9">85</text>
<text transform="rotate(12.6)" x="-147.5" y="-9">87</text>
<text transform="rotate(355.75)" x="-127" y="-9">27</text>
<text transform="rotate(329.77)" x="-106.5" y="-9">16</text>
<text transform="rotate(58.125)" x="-250" y="9">37</text>
<text transform="rotate(69.375)" x="-250" y="-9">82</text>
<text transform="rotate(66.56)" x="-229.5" y="-9">39</text>
<text transform="rotate(62.34)" x="-209" y="-9">43</text>
<text transform="rotate(57.42)" x="-188.5" y="-9">99</text>
</g>
</g>
<g id="group-labels" class="gl">
<text x="513" y="13">G1</text>
<text x="690" y="100">G2</text>
<text x="790" y="220">G3</text>
<text x="833" y="372">G4</text>
<text x="740" y="668">G5</text>
<text x="350" y="808">G6</text>
<text x="108" y="673">G7</text>
<text x="43" y="563">G8</text>
<text x="17" y="434">G9</text>
<text x="53" y="222">G10</text>
<text x="207" y="62">G11</text>
</g>
</svg>
